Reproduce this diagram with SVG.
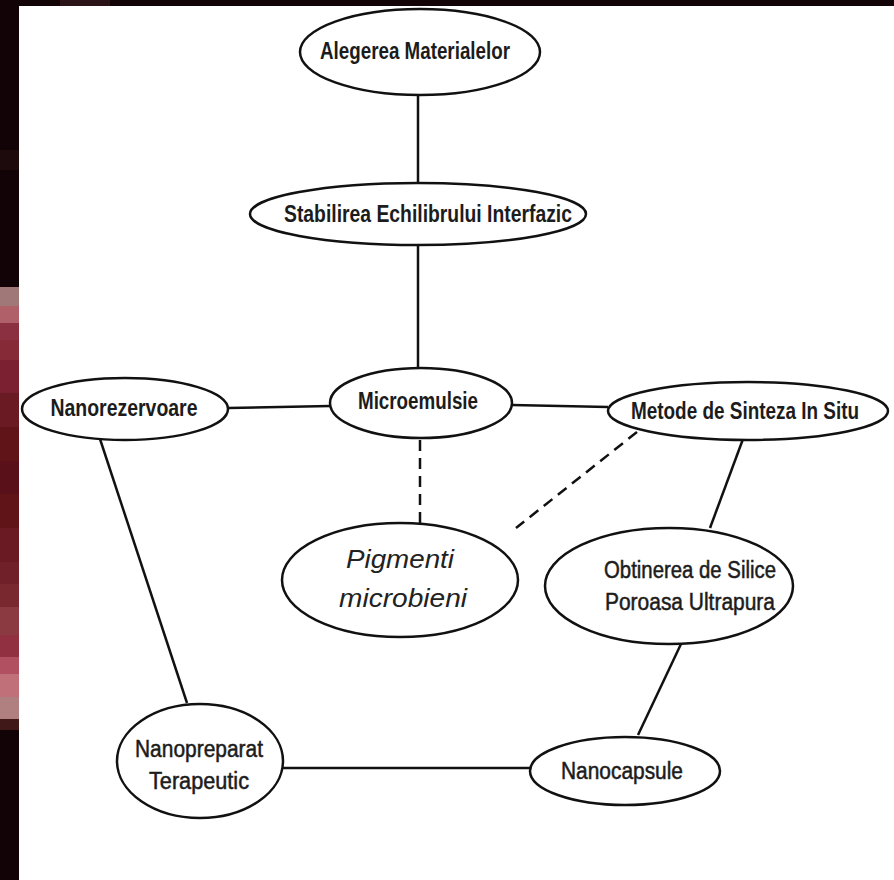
<svg xmlns="http://www.w3.org/2000/svg" width="894" height="880" viewBox="0 0 894 880">
<style>
.node ellipse{fill:#ffffff;stroke:#111111;stroke-width:2.5}
.lbl{font-family:"Liberation Sans",Arial,sans-serif;font-size:23px;font-weight:bold;fill:#1c1c1c;text-anchor:middle}
.reg{font-family:"Liberation Sans",Arial,sans-serif;font-size:23px;font-weight:normal;fill:#1c1c1c;stroke:#1c1c1c;stroke-width:0.5;text-anchor:middle}
.ital{font-family:"Liberation Sans",Arial,sans-serif;font-size:26px;font-style:italic;fill:#222222;text-anchor:middle}
.edge{stroke:#111111;stroke-width:2.5;fill:none}
.dash{stroke-dasharray:11 7}
</style>
<rect x="0" y="0" width="894" height="880" fill="#120306"/>
<g id="sidebar">
<rect x="60" y="0" width="50" height="6" fill="#2a1418"/>
<rect x="0" y="150" width="19" height="20" fill="#1c0a0c"/>
<rect x="0" y="287" width="19" height="19" fill="#a07878"/>
<rect x="0" y="306" width="19" height="17" fill="#b06068"/>
<rect x="0" y="323" width="19" height="17" fill="#8a3040"/>
<rect x="0" y="340" width="19" height="20" fill="#862a38"/>
<rect x="0" y="360" width="19" height="33" fill="#7a2030"/>
<rect x="0" y="393" width="19" height="34" fill="#6a1a22"/>
<rect x="0" y="427" width="19" height="34" fill="#601418"/>
<rect x="0" y="461" width="19" height="33" fill="#5a1018"/>
<rect x="0" y="494" width="19" height="34" fill="#601418"/>
<rect x="0" y="528" width="19" height="34" fill="#6a1a22"/>
<rect x="0" y="562" width="19" height="22" fill="#702028"/>
<rect x="0" y="584" width="19" height="23" fill="#7a2830"/>
<rect x="0" y="607" width="19" height="28" fill="#8a3a40"/>
<rect x="0" y="635" width="19" height="22" fill="#903040"/>
<rect x="0" y="657" width="19" height="17" fill="#b05060"/>
<rect x="0" y="674" width="19" height="23" fill="#c07078"/>
<rect x="0" y="697" width="19" height="22" fill="#b08080"/>
<rect x="0" y="719" width="19" height="11" fill="#401818"/>
</g>
<rect x="19" y="6" width="875" height="874" fill="#ffffff"/>
<g id="connectors">
<line class="edge" x1="418" y1="95" x2="418" y2="183"/>
<line class="edge" x1="418" y1="245" x2="418" y2="368"/>
<line class="edge" x1="228" y1="408" x2="330" y2="406"/>
<line class="edge" x1="512" y1="405" x2="608" y2="407"/>
<line class="edge dash" x1="420" y1="440" x2="420" y2="523"/>
<line class="edge dash" x1="637" y1="432" x2="516" y2="528"/>
<line class="edge" x1="743" y1="439" x2="710" y2="528"/>
<line class="edge" x1="681" y1="644" x2="638" y2="735"/>
<line class="edge" x1="100" y1="439" x2="187" y2="703"/>
<line class="edge" x1="283" y1="768" x2="530" y2="768"/>
</g>
<g id="alegerea" class="node"><ellipse cx="420" cy="52" rx="120" ry="43"/><text class="lbl" x="415" y="59" textLength="190" lengthAdjust="spacingAndGlyphs">Alegerea Materialelor</text></g>
<g id="stabilirea" class="node"><ellipse cx="418" cy="214" rx="168" ry="31"/><text class="lbl" x="428" y="222" textLength="288" lengthAdjust="spacingAndGlyphs">Stabilirea Echilibrului Interfazic</text></g>
<g id="microemulsie" class="node"><ellipse cx="421" cy="403" rx="91" ry="35"/><text class="lbl" x="418" y="409" textLength="120" lengthAdjust="spacingAndGlyphs">Microemulsie</text></g>
<g id="nanorezervoare" class="node"><ellipse cx="125" cy="409" rx="103" ry="31"/><text class="lbl" x="124" y="416" textLength="147" lengthAdjust="spacingAndGlyphs">Nanorezervoare</text></g>
<g id="metode" class="node"><ellipse cx="748" cy="411" rx="140" ry="29"/><text class="lbl" transform="translate(745,419) scale(0.823,1)" x="0" y="0">Metode de Sinteza In Situ</text></g>
<g id="pigmenti" class="node"><ellipse cx="400" cy="580" rx="118" ry="57"/><text class="ital" x="400" y="568" textLength="108" lengthAdjust="spacingAndGlyphs">Pigmenti</text><text class="ital" x="403" y="607" textLength="128" lengthAdjust="spacingAndGlyphs">microbieni</text></g>
<g id="obtinerea" class="node"><ellipse cx="669" cy="586" rx="124" ry="58"/><text class="reg" x="690" y="578" textLength="172" lengthAdjust="spacingAndGlyphs">Obtinerea de Silice</text><text class="reg" x="690" y="610" textLength="170" lengthAdjust="spacingAndGlyphs">Poroasa  Ultrapura</text></g>
<g id="nanopreparat" class="node"><ellipse cx="200" cy="761" rx="83" ry="57"/><text class="reg" x="199" y="757" textLength="128" lengthAdjust="spacingAndGlyphs">Nanopreparat</text><text class="reg" x="199" y="789" textLength="100" lengthAdjust="spacingAndGlyphs">Terapeutic</text></g>
<g id="nanocapsule" class="node"><ellipse cx="625" cy="771" rx="95" ry="34"/><text class="reg" x="622" y="779" textLength="122" lengthAdjust="spacingAndGlyphs">Nanocapsule</text></g>
</svg>
